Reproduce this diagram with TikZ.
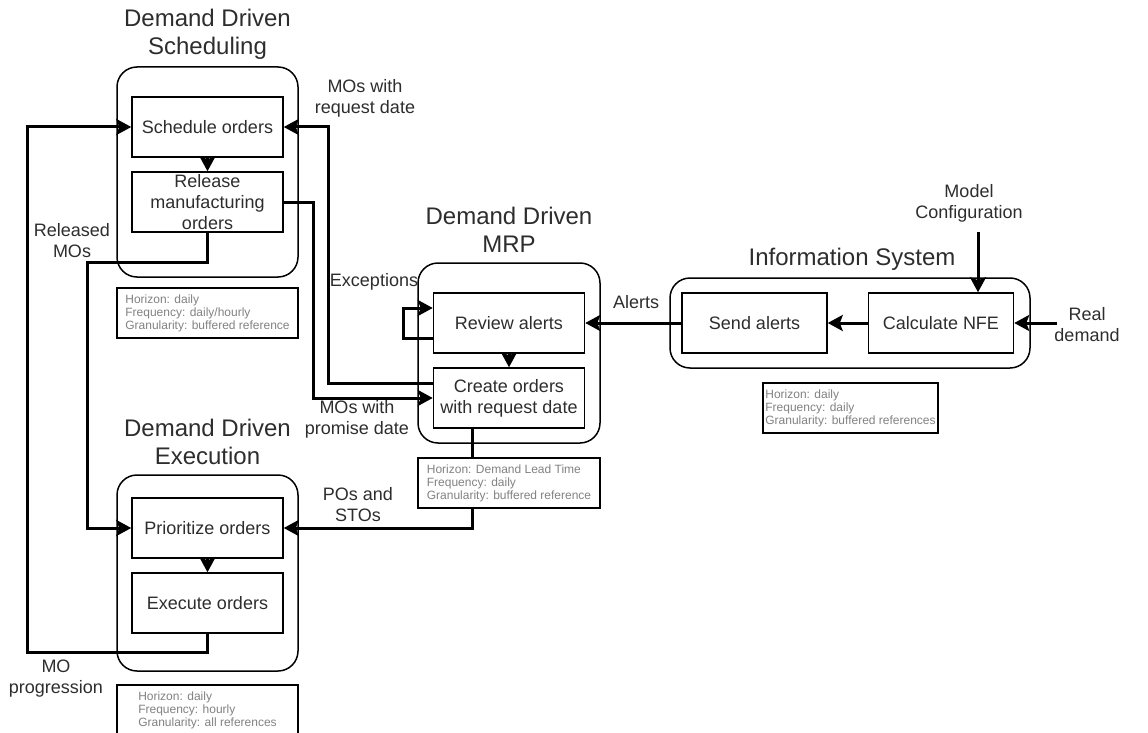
\documentclass[tikz,border=0pt]{standalone}
\usepackage{fontspec}
\setmainfont{Liberation Sans}
\usetikzlibrary{arrows.meta}
\definecolor{txtgray}{RGB}{45,45,45}
\definecolor{infogray}{RGB}{130,130,130}
\tikzset{
  proc/.style={draw,line width=1.5pt,minimum width=151pt,minimum height=60pt,inner sep=0pt,align=center,text=txtgray,font=\fontsize{18}{21}\selectfont},
  grp/.style={draw,line width=1.5pt,rounded corners=20pt},
  info/.style={draw,line width=1.5pt,fill=white,minimum height=50pt,inner sep=0pt,align=left,text=infogray,font=\fontsize{12}{13}\selectfont},
  ttl/.style={align=center,text=txtgray,font=\fontsize{24}{28}\selectfont},
  lbl/.style={align=center,text=txtgray,inner sep=0pt,font=\fontsize{18}{21}\selectfont},
  flow/.style={line width=3pt,-{Stealth[length=15pt,width=16pt,inset=3pt]}}
}
\begin{document}
\begin{tikzpicture}[x=1pt,y=-1pt]
\useasboundingbox (0,0) rectangle (1148,733);

\node[grp,minimum width=181pt,minimum height=210pt] (gsched) at (207.5,172) {};
\node[grp,minimum width=181pt,minimum height=196pt] (gexec) at (207.5,573) {};
\node[grp,minimum width=182pt,minimum height=180pt] (gmrp) at (509,353) {};
\node[grp,minimum width=360pt,minimum height=90pt] (gis) at (850,323) {};

\node[ttl] (tsched) at (207.5,34) {Demand Driven\\Scheduling};
\node[ttl] (texec) at (207.5,442) {Demand Driven\\Execution};
\node[ttl] (tmrp) at (509,230) {Demand Driven\\MRP};
\node[ttl] (tis) at (852,259) {Information System};

\node[proc] (sched) at (207.5,127) {Schedule orders};
\node[proc] (release) at (207.5,202) {Release\\manufacturing\\orders};
\node[proc] (prio) at (207.5,528) {Prioritize orders};
\node[proc] (exec) at (207.5,603) {Execute orders};
\node[proc] (review) at (509,323) {Review alerts};
\node[proc] (create) at (509,398) {Create orders\\with request date};
\node[proc,minimum width=145pt] (sendal) at (754.5,323) {Send alerts};
\node[proc,minimum width=145pt] (calc) at (941,323) {Calculate NFE};

\coordinate (mcin) at (978,232);
\coordinate (rdin) at (1057,323);

\draw[flow] (sched.south) -- (release.north);
\draw[flow] (prio.south) -- (exec.north);
\draw[flow] (review.south) -- (create.north);
\draw[flow] (exec.south) |- (27,652) |- (sched.west);
\draw[flow] (release.south) |- (87,262) |- (prio.west);
\draw[flow] ([yshift=15pt]create.west) -| (328,127) -- (sched.east);
\draw[flow] (release.east) -- (313,202) |- (create.west);
\draw[flow] ([yshift=-15pt]review.west) -| (403,308) -- ([yshift=15pt]review.west);
\draw[flow] ([xshift=-37pt]create.south) |- (prio.east);
\draw[flow] (sendal.west) -- (review.east);
\draw[flow] (calc.west) -- (sendal.east);
\draw[flow] (mcin) -- (mcin |- calc.north);
\draw[flow] (rdin) -- (calc.east);

\node[info,minimum width=181pt] (isched) at (207.5,313) {Horizon: daily\\Frequency: daily/hourly\\Granularity: buffered reference};
\node[info,minimum width=182pt] (imrp) at (509,483) {Horizon: Demand Lead Time\\Frequency: daily\\Granularity: buffered reference};
\node[info,minimum width=175pt] (iis) at (850.5,408) {Horizon: daily\\Frequency: daily\\Granularity: buffered references};
\node[info,minimum width=181pt] (iexec) at (207.5,710) {Horizon: daily\\Frequency: hourly\\Granularity: all references};

\node[lbl] (lreq) at (365,98) {MOs with\\request date};
\node[lbl] (lrel) at (72,241) {Released\\MOs};
\node[lbl] (lexc) at (374,282) {Exceptions};
\node[lbl] (lprom) at (357,419) {MOs with\\promise date};
\node[lbl] (lpos) at (358,505) {POs and\\STOs};
\node[lbl] (lprog) at (56,679) {MO\\progression};
\node[lbl] (lal) at (636,302) {Alerts};
\node[lbl] (lmc) at (969,203) {Model\\Configuration};
\node[lbl] (lrd) at (1087,325) {Real\\demand};
\end{tikzpicture}
\end{document}
